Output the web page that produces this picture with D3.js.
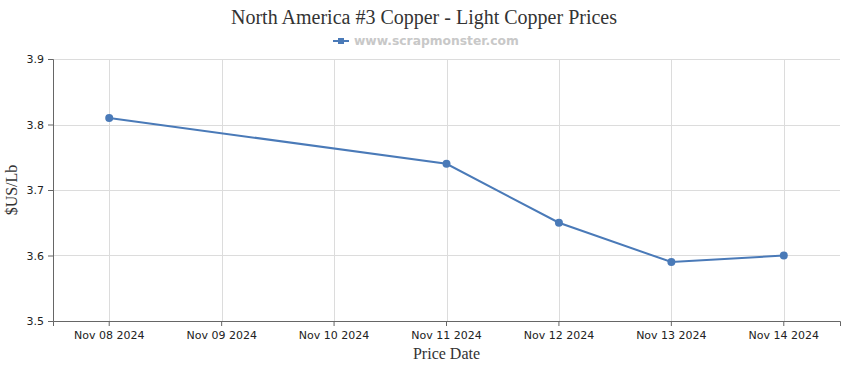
<!DOCTYPE html>
<html>
<head>
<meta charset="utf-8">
<script src="https://cdn.jsdelivr.net/npm/d3@7"></script>
<style>
  body { margin: 0; background: #fff; }
  svg { display: block; }
</style>
</head>
<body>
<div id="graph"></div>
<script>
// chart data
const dates = ['Nov 08 2024', 'Nov 09 2024', 'Nov 10 2024', 'Nov 11 2024', 'Nov 12 2024', 'Nov 13 2024', 'Nov 14 2024'];
const priceDates = ['Nov 08 2024', 'Nov 11 2024', 'Nov 12 2024', 'Nov 13 2024', 'Nov 14 2024'];
const prices = [3.81, 3.74, 3.65, 3.59, 3.60];
const yTicks = [3.5, 3.6, 3.7, 3.8, 3.9];

const margin = {top: 59, right: 10, bottom: 49, left: 53},
  width = 850 - margin.left - margin.right,
  height = 370 - margin.top - margin.bottom;

const lineColor = '#4a7ab8';

const svg = d3.select('#graph')
  .append('svg')
  .attr('width', 850)
  .attr('height', 370);

// title + legend
svg.append('text')
  .attr('x', 424).attr('y', 24)
  .attr('text-anchor', 'middle')
  .style('font-family', '"Liberation Serif", "Times New Roman", serif')
  .style('font-size', '20px')
  .style('fill', '#333')
  .text('North America #3 Copper - Light Copper Prices');

const legend = svg.append('g').attr('transform', 'translate(333,41)');
legend.append('line')
  .attr('x1', 0).attr('x2', 16).attr('y1', 0).attr('y2', 0)
  .attr('stroke', lineColor).attr('stroke-width', 2);
legend.append('rect')
  .attr('x', 5).attr('y', -3).attr('width', 6).attr('height', 6)
  .attr('fill', lineColor);
legend.append('text')
  .attr('x', 21).attr('y', 4)
  .style('font-family', '"DejaVu Sans", Verdana, sans-serif')
  .style('font-size', '12.3px')
  .style('font-weight', 'bold')
  .style('fill', '#c8c8c8')
  .text('www.scrapmonster.com');

const g = svg.append('g')
  .attr('transform', `translate(${margin.left},${margin.top})`);

// scales
const x = d3.scaleBand().domain(dates).range([0, width]);
const y = d3.scaleLinear().domain([3.5, 3.9]).range([height, 0]);
const cx = d => x(d) + x.bandwidth() / 2;

// grid
g.selectAll('.hgrid')
  .data(yTicks.slice(1))
  .enter().append('line')
  .attr('x1', 0).attr('x2', width)
  .attr('y1', d => Math.round(y(d)) + 0.5).attr('y2', d => Math.round(y(d)) + 0.5)
  .attr('stroke', '#dcdcdc');
g.selectAll('.vgrid')
  .data(dates)
  .enter().append('line')
  .attr('x1', d => Math.round(cx(d)) + 0.5).attr('x2', d => Math.round(cx(d)) + 0.5)
  .attr('y1', 0).attr('y2', height)
  .attr('stroke', '#dcdcdc');

// axes
const xAxis = g.append('g')
  .attr('transform', `translate(0,${height})`)
  .call(d3.axisBottom(x).tickSizeOuter(0).tickSize(5).tickPadding(5));
const yAxis = g.append('g')
  .call(d3.axisLeft(y).tickValues(yTicks).tickFormat(d3.format('.1f')).tickSizeOuter(0).tickSize(5).tickPadding(4));
[xAxis, yAxis].forEach(a => {
  a.select('.domain').attr('stroke', '#666');
  a.selectAll('.tick line').attr('stroke', '#666');
  a.selectAll('.tick text')
    .style('font-family', '"DejaVu Sans", Tahoma, sans-serif')
    .style('font-size', '11px')
    .style('fill', '#222');
});

// axis titles
svg.append('text')
  .attr('x', margin.left + width / 2).attr('y', 359)
  .attr('text-anchor', 'middle')
  .style('font-family', '"Liberation Serif", "Times New Roman", serif')
  .style('font-size', '16px')
  .style('fill', '#333')
  .text('Price Date');
svg.append('text')
  .attr('transform', `translate(17,${margin.top + height / 2}) rotate(-90)`)
  .attr('text-anchor', 'middle')
  .style('font-family', '"Liberation Serif", "Times New Roman", serif')
  .style('font-size', '16px')
  .style('fill', '#333')
  .text('$US/Lb');

// series
const data = priceDates.map((d, i) => ({date: d, value: prices[i]}));
g.append('path')
  .datum(data)
  .attr('fill', 'none')
  .attr('stroke', lineColor)
  .attr('stroke-width', 2)
  .attr('d', d3.line().x(d => cx(d.date)).y(d => y(d.value)));
g.selectAll('circle')
  .data(data)
  .enter().append('circle')
  .attr('r', 4)
  .attr('cx', d => cx(d.date))
  .attr('cy', d => y(d.value))
  .attr('fill', lineColor);
</script>
</body>
</html>
